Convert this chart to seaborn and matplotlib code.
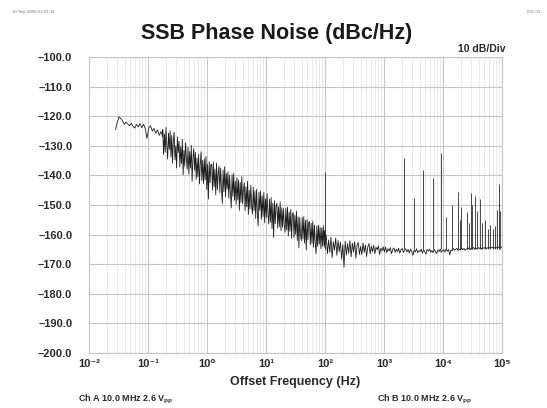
import numpy as np
import pandas as pd
import matplotlib
matplotlib.use("Agg")
import matplotlib.pyplot as plt
import seaborn as sns
from matplotlib.ticker import FixedLocator, NullFormatter, LogLocator

sns.set_theme(style="white")
plt.rcParams['font.family'] = ['Liberation Sans', 'DejaVu Sans']

# ---------------- data ----------------
# sweep segments: (start exponent, stop exponent) of offset frequency in Hz
seg_a_range = (-1.55, -0.75)
seg_a_dbc = [-124.5, -122.0, -120.2, -120.8, -121.5, -122.8, -122.0, -122.6, -123.2, -122.4,
             -123.5, -124.0, -122.8, -123.6, -122.5, -123.9, -122.7, -124.2, -127.5, -124.0,
             -123.2, -125.0, -124.1, -125.8, -124.6, -126.5, -125.2, -127.0]

seg_b_range = (-0.75, 2.0)
seg_b_dbc = [
    -124.5, -133.0, -126.0, -132.2, -123.8, -130.0, -134.5, -125.7, -131.2, -124.9,
    -133.8, -126.5, -135.9, -128.2, -125.4, -134.8, -130.0, -137.5, -127.0, -132.3,
    -128.5, -137.2, -130.4, -136.0, -127.8, -139.8, -131.5, -136.9, -128.9, -134.2,
    -137.9, -130.5, -139.6, -132.0, -137.5, -129.8, -142.0, -134.3, -131.0, -138.2,
    -132.2, -141.3, -134.1, -140.4, -132.8, -142.9, -136.5, -132.0, -141.8, -134.9,
    -142.7, -134.4, -141.5, -133.6, -144.8, -136.2, -148.0, -135.4, -142.5, -136.3,
    -136.3, -145.0, -135.4, -143.9, -137.8, -146.6, -135.8, -144.8, -139.5, -136.9,
    -145.8, -137.5, -144.4, -149.5, -138.2, -145.5, -137.0, -147.3, -139.4, -144.6,
    -138.8, -147.7, -140.0, -146.4, -151.0, -139.8, -147.1, -139.3, -148.4, -142.0,
    -149.8, -140.8, -148.3, -141.5, -151.8, -142.3, -149.1, -140.4, -149.6, -144.6,
    -142.5, -151.9, -143.8, -150.6, -142.0, -153.2, -145.0, -151.4, -143.3, -150.2,
    -153.0, -144.0, -151.9, -145.2, -154.6, -144.7, -152.5, -157.0, -145.6, -151.8,
    -145.3, -154.8, -146.9, -153.9, -145.8, -156.0, -147.9, -154.2, -146.2, -152.8,
    -156.4, -148.0, -155.8, -147.5, -158.0, -149.4, -161.0, -148.6, -156.3, -150.2,
    -149.4, -157.8, -150.6, -157.3, -149.0, -158.7, -150.9, -157.5, -151.2, -156.6,
    -159.2, -151.0, -158.5, -150.7, -160.5, -152.4, -158.9, -151.5, -161.3, -153.0,
    -152.6, -161.0, -153.5, -159.9, -152.1, -162.0, -154.0, -164.5, -154.2, -160.0,
    -162.1, -154.2, -161.5, -153.9, -162.9, -155.2, -165.2, -154.9, -161.8, -155.8,
    -155.6, -163.5, -156.2, -163.0, -155.5, -164.3, -156.8, -162.6, -166.5, -157.2,
    -164.0, -156.8, -163.2, -157.5, -164.8, -157.8, -163.9, -157.0, -164.3, -158.6]

seg_c_range = (2.0, 5.0)
seg_c_dbc = [
    -163.5, -160.2, -166.5, -161.8, -166.0, -160.9, -167.8, -162.4, -165.3, -161.2,
    -167.0, -162.0, -165.8, -162.5, -168.3, -163.4, -171.0, -162.2, -166.9, -163.0,
    -166.4, -162.0, -167.5, -162.9, -165.9, -162.4, -168.0, -163.6, -162.6, -166.7,
    -164.0, -166.8, -162.8, -166.0, -163.5, -167.4, -164.2, -163.0, -166.5, -163.9,
    -165.8, -163.6, -166.4, -164.3, -165.1, -163.8, -166.7, -164.6, -165.5, -164.1,
    -165.9, -164.2, -166.1, -164.8, -165.6, -164.4, -166.5, -165.0, -164.5, -166.0,
    -164.9, -165.8, -164.6, -166.3, -165.1, -164.7, -166.0, -165.3, -164.8, -165.9,
    -165.0, -166.2, -164.9, -165.7, -167.0, -165.2, -165.9, -164.8, -166.1, -165.4,
    -165.7, -164.9, -166.3, -165.1, -165.8, -166.6, -165.0, -165.6, -164.9, -166.0,
    -165.3, -166.1, -165.0, -165.8, -166.4, -165.2, -165.7, -164.9, -166.0, -165.4,
    -165.1, -165.9, -164.8, -165.6, -165.0, -166.9, -165.2, -165.5, -164.7, -165.3,
    -165.0, -164.6, -165.4, -164.9, -165.2, -164.5, -165.1, -164.7, -165.3, -164.8,
    -164.9, -164.5, -165.1, -164.6, -164.9, -164.3, -165.0, -164.6, -164.8, -164.4,
    -164.7, -164.3, -164.9, -164.5, -164.6, -164.2, -164.8, -164.4, -164.6, -164.3,
    -164.5, -164.2, -164.7, -164.4, -164.3, -164.6, -164.1, -164.5, -164.3, -164.2]

# discrete spurs (Hz, dBc/Hz)
spur_hz = [100, 2200, 3240, 4570, 6760, 9120, 11200, 14100, 17800, 19100, 20400, 25100,
           27500, 29500, 31600, 34700, 37200, 42700, 45700, 51300, 57500, 63100, 70800,
           75900, 81300, 89100, 93300]
spur_dbc = [-139.0, -134.0, -147.6, -138.2, -140.9, -132.4, -154.0, -150.0, -145.6, -155.0,
            -150.7, -152.4, -156.0, -146.0, -150.0, -147.0, -152.0, -148.0, -156.0, -155.0,
            -158.0, -156.8, -158.0, -157.0, -151.7, -143.0, -152.0]
spur_floor = -165.0

y_ticks = [-100, -110, -120, -130, -140, -150, -160, -170, -180, -190, -200]
x_decades = [-2, -1, 0, 1, 2, 3, 4, 5]
x_tick_labels = ["10⁻²", "10⁻¹", "10⁰", "10¹", "10²", "10³", "10⁴", "10⁵"]

# ---------------- build trace ----------------
parts = []
for rng, vals in [(seg_a_range, seg_a_dbc), (seg_b_range, seg_b_dbc), (seg_c_range, seg_c_dbc)]:
    f = np.logspace(rng[0], rng[1], len(vals))
    parts.append(pd.DataFrame({"freq": f, "dbc": vals}))
trace = pd.concat(parts, ignore_index=True)

# ---------------- figure ----------------
fig = plt.figure(figsize=(5.47, 4.08), dpi=100)
ax = fig.add_axes([89/547, 1-353/408, (502-89)/547, (353-57)/408])

sns.lineplot(data=trace, x="freq", y="dbc", ax=ax, estimator=None, sort=False,
             color="#1e1e1e", linewidth=0.6)
ax.vlines(spur_hz, spur_floor, spur_dbc, color="#2a2a2a", linewidth=0.6)

ax.set_xscale("log")
ax.set_xlim(10.0**x_decades[0], 10.0**x_decades[-1])
ax.set_ylim(y_ticks[-1], y_ticks[0])

ax.xaxis.set_major_locator(FixedLocator([10.0**d for d in x_decades]))
ax.set_xticklabels(x_tick_labels)
ax.xaxis.set_minor_locator(LogLocator(base=10, subs=np.arange(2, 10), numticks=50))
ax.xaxis.set_minor_formatter(NullFormatter())
ax.set_yticks(y_ticks)
ax.set_yticklabels([f"{v:.1f}".replace("-", "–") for v in y_ticks])

ax.grid(which="major", axis="both", color="#c4c4c4", linewidth=0.8)
ax.grid(which="minor", axis="x", color="#e4e4e4", linewidth=0.6)
ax.tick_params(which="both", length=0)
ax.tick_params(axis="y", pad=12)
ax.tick_params(axis="x", pad=4)
for lab in ax.get_xticklabels() + ax.get_yticklabels():
    lab.set_fontsize(8)
    lab.set_fontweight("bold")
    lab.set_color("#2a2a2a")
for s in ax.spines.values():
    s.set_color("#c4c4c4")
    s.set_linewidth(0.8)

ax.set_xlabel("Offset Frequency (Hz)", fontsize=9, fontweight="bold", color="#2a2a2a", labelpad=5)
ax.set_ylabel("")

fig.text(277/547, 1-34/408, "SSB Phase Noise (dBc/Hz)", ha="center", va="center",
         fontsize=15.5, fontweight="bold", color="#1a1a1a")
fig.text(506/547, 1-49/408, "10 dB/Div", ha="right", va="center",
         fontsize=7.5, fontweight="bold", color="#2a2a2a")
fig.text(78/547, 1-399/408, "Ch A 10.0 MHz 2.6 V$_{\\mathregular{pp}}$", ha="left", va="center",
         fontsize=6.5, fontweight="bold", color="#2a2a2a")
fig.text(377/547, 1-399/408, "Ch B 10.0 MHz 2.6 V$_{\\mathregular{pp}}$", ha="left", va="center",
         fontsize=6.5, fontweight="bold", color="#2a2a2a")
fig.text(12/547, 1-12/408, "10 Sep 2008 03:01:11", ha="left", va="center",
         fontsize=3.2, color="#777777")
fig.text(540/547, 1-12/408, "001 01", ha="right", va="center",
         fontsize=3.2, color="#777777")

fig.savefig("out.png", dpi=100)
